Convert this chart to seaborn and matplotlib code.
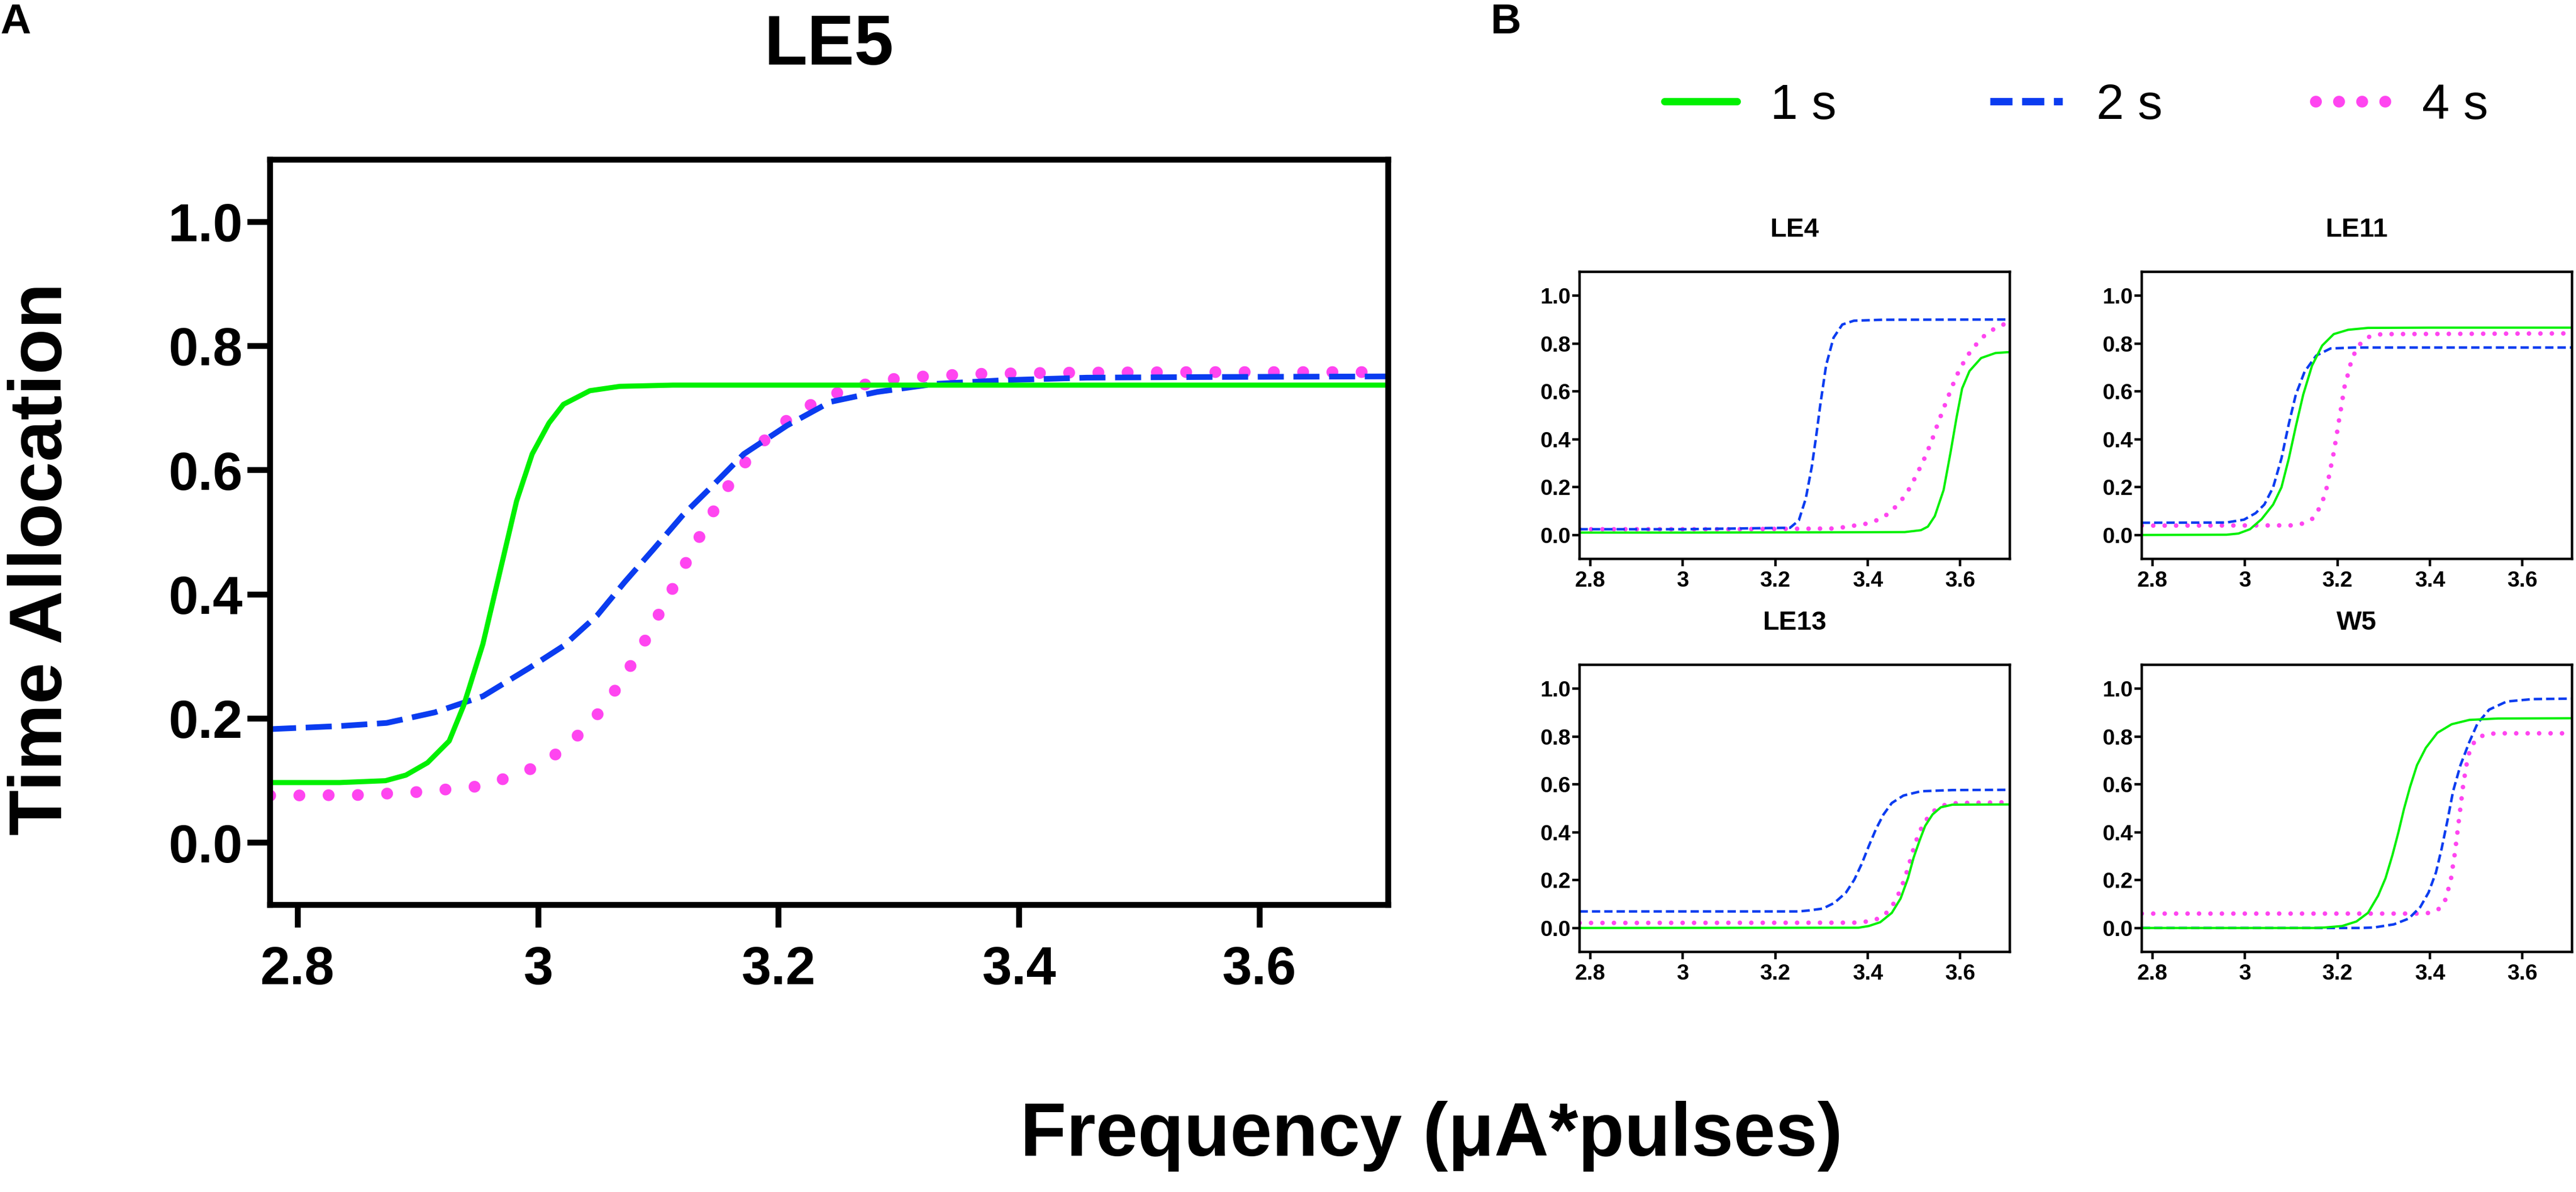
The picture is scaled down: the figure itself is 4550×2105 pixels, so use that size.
"""Psychometric curves: time allocation vs frequency for trains of 1, 2 and 4 s.

Panel A shows subject LE5 large, panel B shows four other subjects small.
"""

import matplotlib

matplotlib.use("Agg")

import matplotlib.pyplot as plt
from matplotlib.lines import Line2D
import seaborn as sns


# ---- values ----------------------------------------------------------------
SERIES_LABELS = ["1 s", "2 s", "4 s"]
Y_TICKS = [0.0, 0.2, 0.4, 0.6, 0.8, 1.0]
Y_TICK_LABELS = ["0.0", "0.2", "0.4", "0.6", "0.8", "1.0"]
X_TICKS = [2.8, 3.0, 3.2, 3.4, 3.6]
X_TICK_LABELS = ["2.8", "3", "3.2", "3.4", "3.6"]

# LE5 (panel A)
LE5_X_1S = [2.777, 2.835, 2.873, 2.890, 2.908, 2.926, 2.938, 2.954, 2.968, 2.982,
            2.995, 3.009, 3.021, 3.043, 3.068, 3.112, 3.300, 3.500, 3.707]
LE5_Y_1S = [0.097, 0.097, 0.100, 0.109, 0.129, 0.164, 0.221, 0.320, 0.435, 0.550,
            0.626, 0.676, 0.706, 0.728, 0.735, 0.737, 0.737, 0.737, 0.737]
LE5_X_2S = [2.777, 2.835, 2.874, 2.914, 2.954, 2.993, 3.021, 3.049, 3.072, 3.096,
            3.120, 3.144, 3.171, 3.207, 3.243, 3.282, 3.330, 3.389, 3.456, 3.550, 3.707]
LE5_Y_2S = [0.183, 0.188, 0.193, 0.210, 0.236, 0.282, 0.317, 0.366, 0.420, 0.473,
            0.527, 0.573, 0.626, 0.672, 0.710, 0.726, 0.739, 0.745, 0.749, 0.750, 0.751]
LE5_X_4S = [2.777, 2.852, 2.902, 2.951, 2.975, 2.998, 3.019, 3.037, 3.054, 3.068,
            3.081, 3.093, 3.104, 3.116, 3.127, 3.139, 3.151, 3.164, 3.180, 3.197,
            3.217, 3.239, 3.262, 3.286, 3.312, 3.361, 3.435, 3.550, 3.707]
LE5_Y_4S = [0.076, 0.077, 0.082, 0.091, 0.105, 0.122, 0.148, 0.180, 0.217, 0.257,
            0.298, 0.340, 0.382, 0.424, 0.467, 0.510, 0.552, 0.593, 0.631, 0.666,
            0.695, 0.718, 0.733, 0.745, 0.750, 0.755, 0.757, 0.758, 0.758]

# LE4
LE4_X_1S = [2.777, 3.000, 3.300, 3.480, 3.515, 3.530, 3.545, 3.564, 3.579, 3.592,
            3.604, 3.620, 3.645, 3.676, 3.707]
LE4_Y_1S = [0.010, 0.010, 0.011, 0.012, 0.020, 0.035, 0.079, 0.188, 0.345, 0.491,
            0.612, 0.685, 0.739, 0.760, 0.764]
LE4_X_2S = [2.777, 3.000, 3.232, 3.251, 3.266, 3.279, 3.288, 3.298, 3.310, 3.326,
            3.345, 3.370, 3.432, 3.707]
LE4_Y_2S = [0.024, 0.024, 0.030, 0.061, 0.152, 0.285, 0.406, 0.552, 0.709, 0.824,
            0.879, 0.895, 0.899, 0.900]
LE4_X_4S = [2.777, 3.100, 3.326, 3.351, 3.400, 3.423, 3.444, 3.462, 3.478, 3.492,
            3.503, 3.514, 3.525, 3.534, 3.543, 3.551, 3.560, 3.569, 3.578, 3.587,
            3.597, 3.609, 3.623, 3.639, 3.656, 3.676, 3.700, 3.707]
LE4_Y_4S = [0.024, 0.024, 0.027, 0.033, 0.048, 0.064, 0.088, 0.121, 0.158, 0.200,
            0.242, 0.285, 0.330, 0.373, 0.418, 0.463, 0.508, 0.554, 0.598, 0.642,
            0.685, 0.727, 0.770, 0.806, 0.840, 0.864, 0.885, 0.890]

# LE11
LE11_X_1S = [2.777, 2.960, 2.986, 3.011, 3.036, 3.061, 3.079, 3.095, 3.110, 3.126,
             3.145, 3.167, 3.192, 3.223, 3.266, 3.400, 3.707]
LE11_Y_1S = [0.000, 0.001, 0.006, 0.024, 0.066, 0.127, 0.199, 0.320, 0.453, 0.586,
             0.707, 0.791, 0.839, 0.857, 0.865, 0.866, 0.866]
LE11_X_2S = [2.777, 2.960, 2.998, 3.023, 3.042, 3.061, 3.079, 3.095, 3.110, 3.129,
             3.154, 3.185, 3.235, 3.707]
LE11_Y_2S = [0.051, 0.052, 0.064, 0.091, 0.127, 0.199, 0.320, 0.465, 0.586, 0.682,
             0.749, 0.779, 0.783, 0.783]
LE11_X_4S = [2.777, 3.100, 3.126, 3.147, 3.160, 3.170, 3.177, 3.182, 3.187, 3.192,
             3.196, 3.200, 3.204, 3.208, 3.212, 3.216, 3.223, 3.229, 3.238, 3.251,
             3.271, 3.296, 3.707]
LE11_Y_4S = [0.039, 0.040, 0.048, 0.069, 0.109, 0.153, 0.199, 0.248, 0.296, 0.344,
             0.390, 0.438, 0.486, 0.531, 0.580, 0.626, 0.673, 0.719, 0.764, 0.803,
             0.831, 0.839, 0.842]

# LE13
LE13_X_1S = [2.777, 3.380, 3.402, 3.427, 3.452, 3.471, 3.487, 3.499, 3.512, 3.524,
             3.540, 3.558, 3.583, 3.707]
LE13_Y_1S = [0.000, 0.001, 0.008, 0.024, 0.063, 0.123, 0.208, 0.293, 0.365, 0.426,
             0.474, 0.504, 0.515, 0.516]
LE13_X_2S = [2.777, 3.250, 3.272, 3.303, 3.328, 3.353, 3.371, 3.387, 3.402, 3.418,
             3.434, 3.452, 3.477, 3.515, 3.583, 3.707]
LE13_Y_2S = [0.069, 0.069, 0.073, 0.081, 0.105, 0.148, 0.202, 0.268, 0.341, 0.414,
             0.474, 0.522, 0.553, 0.571, 0.576, 0.577]
LE13_X_4S = [2.777, 3.370, 3.399, 3.423, 3.443, 3.457, 3.468, 3.477, 3.485, 3.492,
             3.499, 3.507, 3.517, 3.530, 3.547, 3.569, 3.594, 3.707]
LE13_Y_4S = [0.021, 0.022, 0.027, 0.039, 0.067, 0.105, 0.148, 0.192, 0.238, 0.284,
             0.331, 0.377, 0.422, 0.462, 0.496, 0.516, 0.522, 0.525]

# W5
W5_X_1S = [2.777, 3.150, 3.173, 3.210, 3.241, 3.266, 3.288, 3.304, 3.319, 3.332,
           3.344, 3.357, 3.372, 3.391, 3.416, 3.447, 3.485, 3.547, 3.707]
W5_Y_1S = [0.000, 0.000, 0.002, 0.008, 0.027, 0.063, 0.135, 0.208, 0.305, 0.401,
           0.498, 0.589, 0.680, 0.752, 0.815, 0.851, 0.869, 0.875, 0.876]
W5_X_2S = [2.777, 3.250, 3.279, 3.322, 3.354, 3.379, 3.397, 3.413, 3.425, 3.438,
           3.450, 3.466, 3.485, 3.503, 3.528, 3.566, 3.622, 3.707]
W5_Y_2S = [0.000, 0.000, 0.002, 0.015, 0.039, 0.087, 0.148, 0.232, 0.329, 0.450,
           0.571, 0.680, 0.776, 0.855, 0.912, 0.946, 0.956, 0.958]
W5_X_4S = [2.777, 3.380, 3.399, 3.421, 3.435, 3.441, 3.447, 3.450, 3.454, 3.457,
           3.460, 3.463, 3.466, 3.469, 3.472, 3.476, 3.480, 3.486, 3.498, 3.519,
           3.544, 3.707]
W5_Y_4S = [0.060, 0.060, 0.063, 0.081, 0.123, 0.172, 0.218, 0.266, 0.313, 0.362,
           0.409, 0.457, 0.504, 0.551, 0.599, 0.646, 0.692, 0.740, 0.785, 0.809,
           0.813, 0.813]

SMALL_PANELS = [
    ("LE4", (LE4_X_1S, LE4_Y_1S), (LE4_X_2S, LE4_Y_2S), (LE4_X_4S, LE4_Y_4S)),
    ("LE11", (LE11_X_1S, LE11_Y_1S), (LE11_X_2S, LE11_Y_2S), (LE11_X_4S, LE11_Y_4S)),
    ("LE13", (LE13_X_1S, LE13_Y_1S), (LE13_X_2S, LE13_Y_2S), (LE13_X_4S, LE13_Y_4S)),
    ("W5", (W5_X_1S, W5_Y_1S), (W5_X_2S, W5_Y_2S), (W5_X_4S, W5_Y_4S)),
]

# ---- styling ---------------------------------------------------------------
GREEN = "#00F000"
BLUE = "#0A3CF0"
PINK = "#FF45F0"
X_LIMITS = (2.777, 3.707)
Y_LIMITS = (-0.1, 1.1)

sns.set_theme(style="ticks")
plt.rcParams["font.family"] = ["Liberation Sans", "DejaVu Sans"]
plt.rcParams["font.weight"] = "bold"
plt.rcParams["axes.edgecolor"] = "black"
plt.rcParams["xtick.color"] = "black"
plt.rcParams["ytick.color"] = "black"
plt.rcParams["text.color"] = "black"


def draw_curves(ax, one, two, four, big):
    """Draw the three train-duration curves on one axes."""
    if big:
        widths = (6.5, 7.2, 15.0)
        dash = (0, (4.6, 1.7))
        dots = (0, (0.01, 2.47))
    else:
        widths = (2.9, 3.2, 5.8)
        dash = (0, (3.3, 1.6))
        dots = (0, (0.01, 2.5))
    sns.lineplot(x=four[0], y=four[1], ax=ax, color=PINK, lw=widths[2],
                 linestyle=dots, dash_capstyle="round", estimator=None)
    sns.lineplot(x=two[0], y=two[1], ax=ax, color=BLUE, lw=widths[1],
                 linestyle=dash, estimator=None)
    sns.lineplot(x=one[0], y=one[1], ax=ax, color=GREEN, lw=widths[0],
                 solid_capstyle="butt", estimator=None)


def style_axes(ax, big):
    """Box frame, GraphPad-like ticks and fixed limits."""
    ax.set_xlim(*X_LIMITS)
    ax.set_ylim(*Y_LIMITS)
    ax.set_xticks(X_TICKS)
    ax.set_xticklabels(X_TICK_LABELS)
    ax.set_yticks(Y_TICKS)
    ax.set_yticklabels(Y_TICK_LABELS)
    ax.set_xlabel("")
    ax.set_ylabel("")
    spine_width = 7.5 if big else 3.2
    for spine in ax.spines.values():
        spine.set_visible(True)
        spine.set_linewidth(spine_width)
        spine.set_color("black")
    if big:
        ax.tick_params(axis="both", length=29, width=spine_width, labelsize=68)
        ax.tick_params(axis="y", pad=6)
        ax.tick_params(axis="x", pad=22)
    else:
        ax.tick_params(axis="both", length=9.4, width=spine_width, labelsize=28)
        ax.tick_params(axis="y", pad=2)
        ax.tick_params(axis="x", pad=6)


fig = plt.figure(figsize=(45.5, 21.05), dpi=100)

# panel A
ax_main = fig.add_axes([0.10484, 0.24086, 0.43407, 0.62518])
draw_curves(ax_main, (LE5_X_1S, LE5_Y_1S), (LE5_X_2S, LE5_Y_2S), (LE5_X_4S, LE5_Y_4S), True)
style_axes(ax_main, True)
ax_main.set_title("LE5", fontsize=90, fontweight="bold", y=1.128, pad=0)

# panel B
small_boxes = [
    [0.61319, 0.53112, 0.16700, 0.24100],
    [0.83143, 0.53112, 0.16700, 0.24100],
    [0.61319, 0.20143, 0.16700, 0.24100],
    [0.83143, 0.20143, 0.16700, 0.24100],
]
for box, (name, one, two, four) in zip(small_boxes, SMALL_PANELS):
    ax = fig.add_axes(box)
    draw_curves(ax, one, two, four, False)
    style_axes(ax, False)
    ax.set_title(name, fontsize=34, fontweight="bold", y=1.122, pad=0)

# shared legend above panel B
handles = [
    Line2D([], [], color=GREEN, lw=9.4),
    Line2D([], [], color=BLUE, lw=9.4, linestyle=(0, (3.0, 1.3))),
    Line2D([], [], color=PINK, lw=15.0, linestyle=(0, (0.01, 1.95)), dash_capstyle="round"),
]
fig.legend(handles, SERIES_LABELS, loc="center", bbox_to_anchor=(0.806, 0.911),
           ncol=3, frameon=False, handlelength=1.46, handletextpad=0.68,
           columnspacing=3.1, prop={"size": 63, "weight": "normal"})

# shared axis labels and panel letters
fig.text(0.5556, 0.0466, "Frequency (\u03bcA*pulses)", ha="center", va="center",
         fontsize=96, fontweight="bold")
fig.text(0.0163, 0.531, "Time Allocation", ha="center", va="center", rotation=90,
         fontsize=95, fontweight="bold")
fig.text(0.0059, 0.981, "A", ha="center", va="center", fontsize=54, fontweight="bold")
fig.text(0.5846, 0.981, "B", ha="center", va="center", fontsize=54, fontweight="bold")

fig.savefig("out.png", dpi=100)
plt.close(fig)
